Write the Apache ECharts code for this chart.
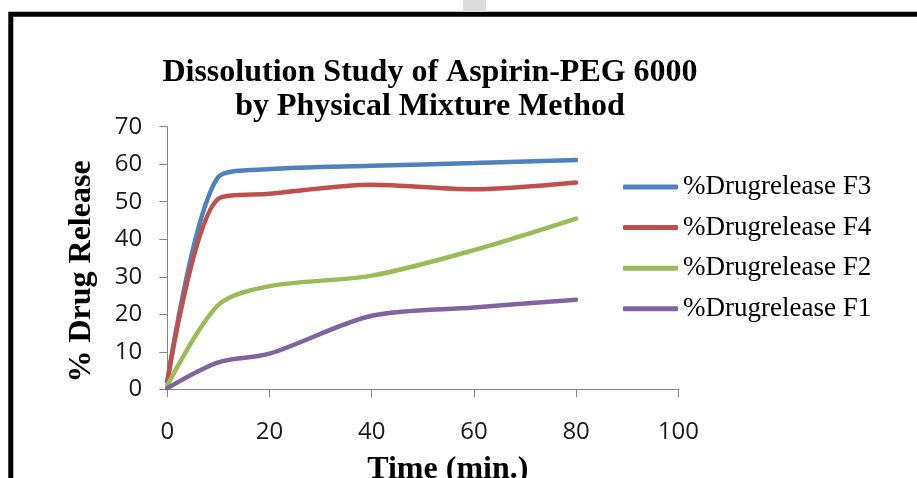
<!DOCTYPE html>
<html>
<head>
<meta charset="utf-8">
<script src="https://cdn.jsdelivr.net/npm/echarts@6/dist/echarts.min.js"></script>
<style>
html,body{margin:0;padding:0;background:#fff;}
#c{width:917px;height:478px;}
</style>
</head>
<body>
<div id="c"></div>
<script>
var times = [0, 10, 20, 40, 60, 80];
var seriesNames = ['%Drugrelease F3', '%Drugrelease F4', '%Drugrelease F2', '%Drugrelease F1'];
var f3 = [2, 56.6, 58.7, 59.6, 60.3, 61.1];
var f4 = [2, 50.8, 52.1, 54.5, 53.3, 55.1];
var f2 = [1, 22.5, 27.5, 30.3, 37.1, 45.5];
var f1 = [0.3, 7.2, 9.5, 19.6, 21.8, 23.9];
var colors = ['#4F81BD', '#C0504D', '#9BBB59', '#8064A2'];
var xTicks = [0, 20, 40, 60, 80, 100];
var yTicks = [0, 10, 20, 30, 40, 50, 60, 70];
var titleText = 'Dissolution Study of Aspirin-PEG 6000\nby Physical Mixture Method';

function pairs(vals){ return times.map(function(t,i){ return [t, vals[i]]; }); }
var allVals = [f3, f4, f2, f1];

var chart = echarts.init(document.getElementById('c'));
var serif = '"Liberation Serif", "Times New Roman", serif';
var sans = '"Open Sans", "Liberation Sans", sans-serif';

chart.setOption({
  animation: false,
  backgroundColor: '#fff',
  title: {
    text: titleText,
    left: 430,
    textAlign: 'center',
    top: 56,
    padding: 0,
    textStyle: { fontFamily: serif, fontWeight: 'bold', fontSize: 32, lineHeight: 34, color: '#000' }
  },
  legend: {
    orient: 'vertical',
    left: 623,
    top: 172,
    padding: 0,
    itemGap: 10.6,
    itemWidth: 55,
    itemHeight: 5,
    icon: 'roundRect',
    data: seriesNames,
    textStyle: { fontFamily: serif, fontSize: 27, lineHeight: 30, color: '#000' }
  },
  grid: { left: 167.3, right: 238.7, top: 126.7, bottom: 88.7, containLabel: false, outerBoundsMode: 'none' },
  xAxis: {
    type: 'value',
    min: xTicks[0], max: xTicks[xTicks.length-1], interval: 20,
    name: 'Time (min.)',
    nameLocation: 'middle',
    nameGap: 64,
    nameTextStyle: { fontFamily: serif, fontWeight: 'bold', fontSize: 32, color: '#000', padding: [0, 0, 0, 50], verticalAlign: 'top' },
    axisLine: { lineStyle: { color: '#868686', width: 1 } },
    axisTick: { length: 8, lineStyle: { color: '#868686' } },
    axisLabel: { margin: 31, fontFamily: sans, fontSize: 24, color: '#1a1a1a' },
    splitLine: { show: false }
  },
  yAxis: {
    type: 'value',
    min: yTicks[0], max: yTicks[yTicks.length-1], interval: 10,
    name: '% Drug Release',
    nameLocation: 'middle',
    nameGap: 70,
    nameRotate: 90,
    nameTextStyle: { fontFamily: serif, fontWeight: 'bold', fontSize: 32, color: '#000', padding: [0, 27, 0, 0] },
    axisLine: { show: true, lineStyle: { color: '#868686', width: 1 } },
    axisTick: { show: true, length: 8, lineStyle: { color: '#868686' } },
    axisLabel: { margin: 25, fontFamily: sans, fontSize: 24, color: '#1a1a1a' },
    splitLine: { show: false }
  },
  series: seriesNames.map(function(n, i){
    return {
      name: n,
      type: 'line',
      data: pairs(allVals[i]),
      smooth: 0.3,
      showSymbol: false,
      symbol: 'none',
      color: colors[i],
      lineStyle: { width: 4.5, color: colors[i], cap: 'round' },
      itemStyle: { color: colors[i] }
    };
  }),
  graphic: [
    { type: 'rect', z: 100, shape: { x: 10.8, y: 14.2, width: 1200, height: 1000 }, style: { fill: 'none', stroke: '#000', lineWidth: 5 } },
    { type: 'rect', z: 100, shape: { x: 463, y: 0, width: 23, height: 12 }, style: { fill: '#dcdcdc' } }
  ]
});
</script>
</body>
</html>
